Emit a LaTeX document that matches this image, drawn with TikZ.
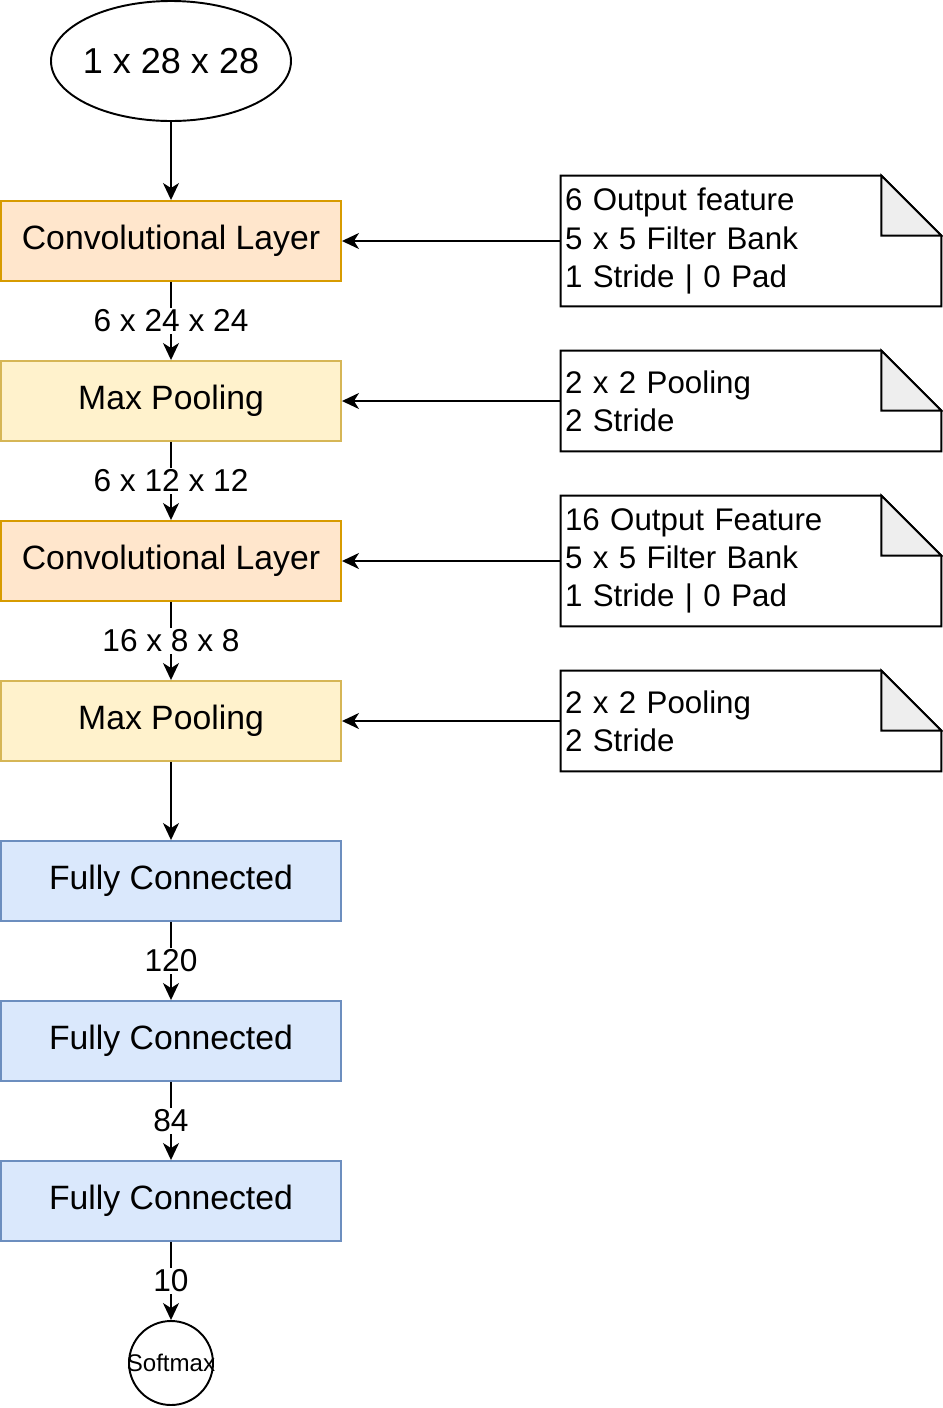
\documentclass[tikz,border=0pt]{standalone}
\usepackage{fontspec}
\setmainfont{Liberation Sans}
\usetikzlibrary{positioning,arrows,arrows.meta,calc,shapes.geometric}
\definecolor{convfill}{HTML}{FFE6CC}
\definecolor{convline}{HTML}{D79B00}
\definecolor{poolfill}{HTML}{FFF2CC}
\definecolor{poolline}{HTML}{D6B656}
\definecolor{fcfill}{HTML}{DAE8FC}
\definecolor{fcline}{HTML}{6C8EBF}
\definecolor{foldgray}{HTML}{EEEEEE}
\tikzset{
    >={Stealth[length=0.34cm, width=0.32cm, inset=0.1cm]},
    block/.style = {
        draw,
        shape=rectangle,
        minimum height=1.6cm,
        minimum width=6.8cm,
        line width=1.1pt,
        font=\fontsize{19.2}{23}\selectfont
    },
    conv/.style = {block, fill=convfill, draw=convline},
    pool/.style = {block, fill=poolfill, draw=poolline},
    fc/.style = {block, fill=fcfill, draw=fcline},
    input/.style = {
        draw,
        shape=ellipse,
        minimum width=4.8cm,
        minimum height=2.4cm,
        inner xsep=-2pt,
        inner ysep=0pt,
        line width=1.1pt,
        font=\fontsize{20.5}{24.6}\selectfont
    },
    outnode/.style = {
        draw,
        shape=circle,
        minimum size=1.68cm,
        inner sep=0pt,
        line width=1.1pt
    },
    note/.style = {
        shape=rectangle,
        minimum width=7.6cm,
        text width=7.44cm,
        inner sep=0.08cm,
        align=left,
        font=\fontsize{17.8}{21.8}\selectfont
    },
    lbl/.style = {fill=white, inner sep=1pt, font=\fontsize{18}{21.6}\selectfont},
    link/.style = {draw, ->, line width=1.1pt},
}
% outline of a note with its folded corner
\newcommand{\notefold}[1]{
    \path[draw, line width=1.1pt] (#1.north west) -- ($(#1.north east)+(-1.2,0)$)
    -- ($(#1.north east)+(0,-1.2)$) -- (#1.south east) -- (#1.south west) -- cycle;
    \path[draw, line width=1.1pt, fill=foldgray] ($(#1.north east)+(-1.2,0)$)
    -- ($(#1.north east)+(-1.2,-1.2)$) -- ($(#1.north east)+(0,-1.2)$) -- cycle;
}

\begin{document}
\begin{tikzpicture}
            \useasboundingbox (0,0) rectangle (18.84,-28.16);

            \node[input] (in) at (3.42,-1.22) {1 x 28 x 28};
            \node[conv] (conv1) at (3.42,-4.82) {Convolutional Layer};
            \node[pool] (pool1) at (3.42,-8.02) {Max Pooling};
            \node[conv] (conv2) at (3.42,-11.22) {Convolutional Layer};
            \node[pool] (pool2) at (3.42,-14.42) {Max Pooling};
            \node[fc] (fc1) at (3.42,-17.62) {Fully Connected};
            \node[fc] (fc2) at (3.42,-20.82) {Fully Connected};
            \node[fc] (fc3) at (3.42,-24.02) {Fully Connected};
            \node[outnode, label={[font=\fontsize{13.7}{16.4}\selectfont]center:Softmax}]
            (soft) at (3.42,-27.26) {};

            \node[note, minimum height=2.6cm] (note1) at (15.02,-4.82)
            {6 Output feature\\5 x 5 Filter Bank\\1 Stride | 0 Pad};
            \node[note, minimum height=2cm] (note2) at (15.02,-8.02)
            {2 x 2 Pooling\\2 Stride};
            \node[note, minimum height=2.6cm] (note3) at (15.02,-11.22)
            {16 Output Feature\\5 x 5 Filter Bank\\1 Stride | 0 Pad};
            \node[note, minimum height=2cm] (note4) at (15.02,-14.42)
            {2 x 2 Pooling\\2 Stride};
            \notefold{note1}
            \notefold{note2}
            \notefold{note3}
            \notefold{note4}

            \path[link] (in) -- (conv1);
            \path[link] (conv1) -- node[lbl] {6 x 24 x 24} (pool1);
            \path[link] (pool1) -- node[lbl] {6 x 12 x 12} (conv2);
            \path[link] (conv2) -- node[lbl] {16 x 8 x 8} (pool2);
            \path[link] (pool2) -- (fc1);
            \path[link] (fc1) -- node[lbl] {120} (fc2);
            \path[link] (fc2) -- node[lbl] {84} (fc3);
            \path[link] (fc3) -- node[lbl] {10} (soft);

            \path[link] (note1) -- (conv1);
            \path[link] (note2) -- (pool1);
            \path[link] (note3) -- (conv2);
            \path[link] (note4) -- (pool2);
\end{tikzpicture}
\end{document}
